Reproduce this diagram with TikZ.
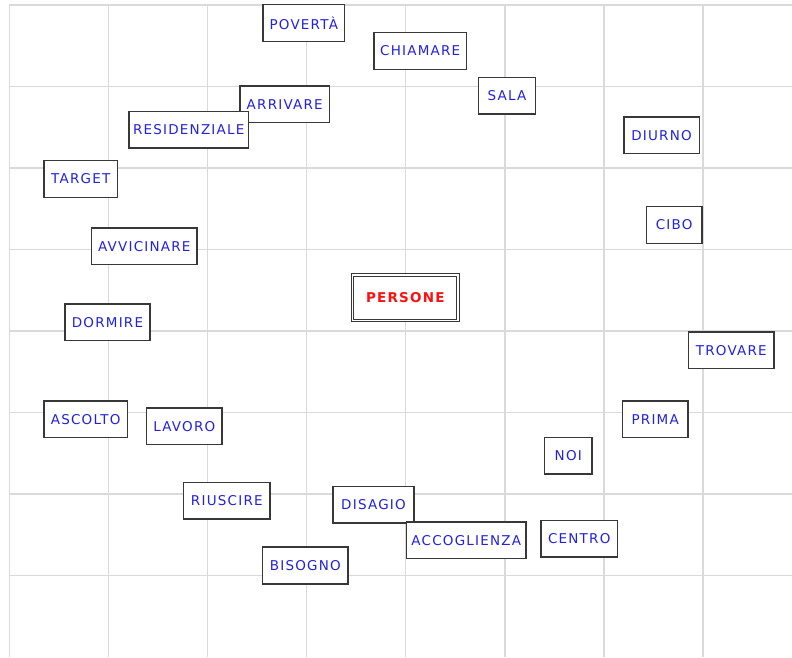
\documentclass[tikz,border=0pt]{standalone}
\usepackage{fontspec}
\newfontfamily\boxfont[LetterSpace=9]{DejaVu Sans}
\definecolor{gridgray}{HTML}{DADADA}
\definecolor{boxgray}{HTML}{383838}
\definecolor{txtblue}{HTML}{2222DD}
\definecolor{txtred}{HTML}{FF1010}
\begin{document}
\begin{tikzpicture}[x=1pt,y=-1pt,
  wordbox/.style={draw=boxgray, line width=1.5pt, fill=white, inner sep=0pt,
    minimum height=36.8pt, text=txtblue, font=\boxfont\fontsize{13.5}{15}\selectfont},
  mainbox/.style={draw=boxgray, line width=1pt, double=white, double distance=1.5pt,
    fill=white, inner sep=0pt, minimum width=105.8pt, minimum height=45.2pt,
    text=txtred, font=\boxfont\bfseries\fontsize{13.5}{15}\selectfont},
  gridline/.style={draw=gridgray, line width=1.5pt}]
\useasboundingbox (0,0) rectangle (792,657);
\fill[white] (0,0) rectangle (792,657);
% grid
\foreach \gx in {9.3,108.4,207.5,306.6,405.7,504.8,603.9,703}
  \draw[gridline] (\gx,5) -- (\gx,657);
\foreach \gy in {5,86.5,168,249.5,331,412.5,494,575.5}
  \draw[gridline] (9.3,\gy) -- (792,\gy);
% words
\node[wordbox, minimum width=81.5pt] (poverta) at (303.8,22.9) {POVERTÀ};
\node[wordbox, minimum width=92.2pt] (chiamare) at (420.2,51) {CHIAMARE};
\node[wordbox, minimum width=89.2pt] (arrivare) at (284.7,104.3) {ARRIVARE};
\node[wordbox, minimum width=119.8pt] (residenziale) at (188.7,129.7) {RESIDENZIALE};
\node[wordbox, minimum width=73.5pt] (target) at (80.8,179) {TARGET};
\node[wordbox, minimum width=57.1pt] (sala) at (507,95.8) {SALA};
\node[wordbox, minimum width=75.5pt] (diurno) at (661.5,135.3) {DIURNO};
\node[wordbox, minimum width=105.2pt] (avvicinare) at (144.3,246.3) {AVVICINARE};
\node[wordbox, minimum width=84.9pt] (dormire) at (107.5,322.2) {DORMIRE};
\node[wordbox, minimum width=83.8pt] (ascolto) at (85.7,419.3) {ASCOLTO};
\node[wordbox, minimum width=75.2pt] (lavoro) at (184.3,426.3) {LAVORO};
\node[mainbox] (persone) at (405.3,297.7) {PERSONE};
\node[wordbox, minimum width=55.5pt] (cibo) at (674.2,225) {CIBO};
\node[wordbox, minimum width=85.2pt] (trovare) at (731.3,350.3) {TROVARE};
\node[wordbox, minimum width=65.5pt] (prima) at (655.2,419.3) {PRIMA};
\node[wordbox, minimum width=47.2pt] (noi) at (568.3,455.8) {NOI};
\node[wordbox, minimum width=86.8pt] (riuscire) at (226.8,500.8) {RIUSCIRE};
\node[wordbox, minimum width=80.9pt] (disagio) at (373.5,504.8) {DISAGIO};
\node[wordbox, minimum width=85.2pt] (bisogno) at (305.3,565.5) {BISOGNO};
\node[wordbox, minimum width=119.2pt] (accoglienza) at (466.3,540.2) {ACCOGLIENZA};
\node[wordbox, minimum width=76.8pt] (centro) at (579.2,538.8) {CENTRO};
\end{tikzpicture}
\end{document}
